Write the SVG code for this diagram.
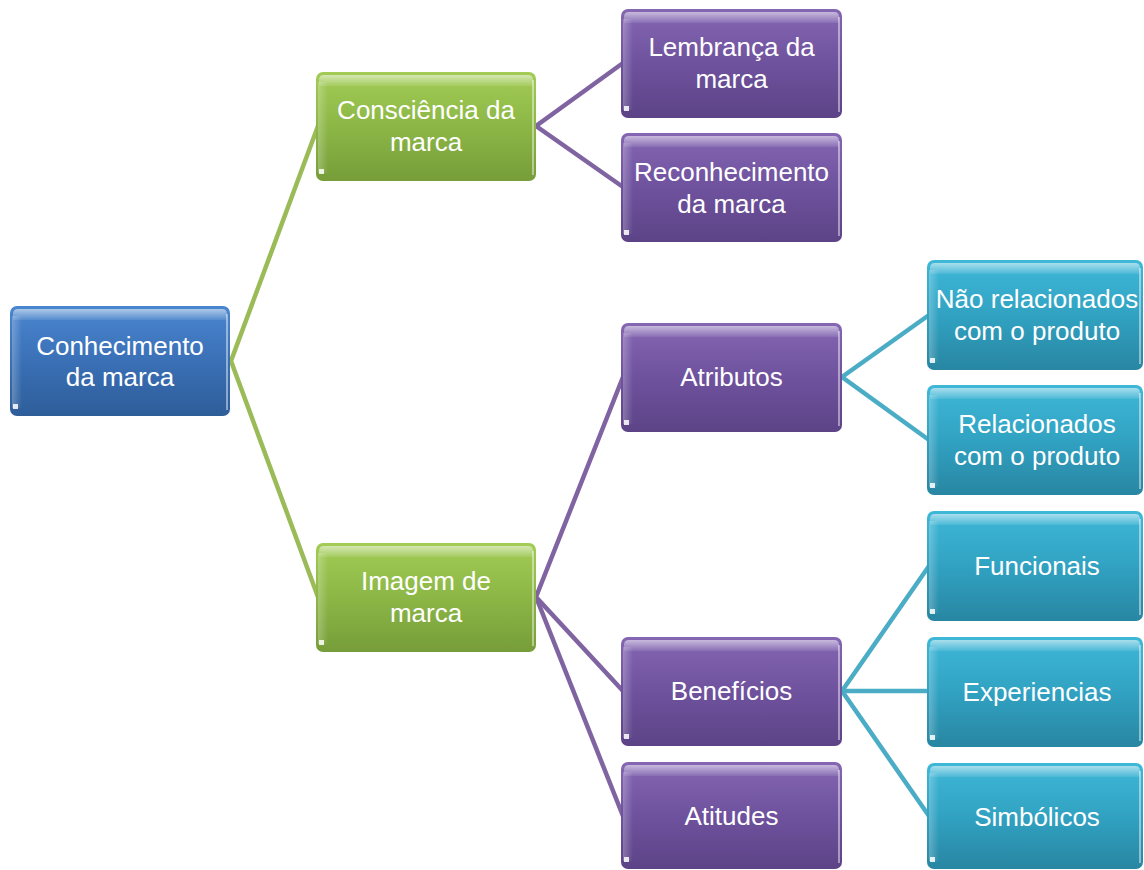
<svg xmlns="http://www.w3.org/2000/svg" width="1144" height="870" viewBox="0 0 1144 870">
  <defs>
    <linearGradient id="gBlue" x1="0" y1="0" x2="0" y2="1">
      <stop offset="0" stop-color="#4a86cf"/>
      <stop offset="0.5" stop-color="#3a70b6"/>
      <stop offset="1" stop-color="#2e5d99"/>
    </linearGradient>
    <linearGradient id="gGreen" x1="0" y1="0" x2="0" y2="1">
      <stop offset="0" stop-color="#a2cc55"/>
      <stop offset="0.5" stop-color="#8cb746"/>
      <stop offset="1" stop-color="#769d39"/>
    </linearGradient>
    <linearGradient id="gPurple" x1="0" y1="0" x2="0" y2="1">
      <stop offset="0" stop-color="#8466b3"/>
      <stop offset="0.5" stop-color="#6f529e"/>
      <stop offset="1" stop-color="#5c4386"/>
    </linearGradient>
    <linearGradient id="gCyan" x1="0" y1="0" x2="0" y2="1">
      <stop offset="0" stop-color="#3fb8d8"/>
      <stop offset="0.5" stop-color="#31a2c2"/>
      <stop offset="1" stop-color="#2886a2"/>
    </linearGradient>
    <linearGradient id="gShine" x1="0" y1="0" x2="0" y2="1">
      <stop offset="0" stop-color="#ffffff" stop-opacity="0.55"/>
      <stop offset="1" stop-color="#ffffff" stop-opacity="0.08"/>
    </linearGradient>
    <linearGradient id="gSide" x1="0" y1="0" x2="1" y2="0">
      <stop offset="0" stop-color="#ffffff" stop-opacity="0.25"/>
      <stop offset="1" stop-color="#ffffff" stop-opacity="0"/>
    </linearGradient>
  </defs>
  <style>
    .box { stroke: none; }
    .blue { fill: url(#gBlue); }
    .green { fill: url(#gGreen); }
    .purple { fill: url(#gPurple); }
    .cyan { fill: url(#gCyan); }
    .shine { fill: url(#gShine); }
    .side { fill: url(#gSide); }
    .edge { fill: none; stroke: #ffffff; stroke-opacity: 0.6; stroke-width: 1.5; }
    .dot { fill: #ffffff; fill-opacity: 0.85; }
    .lbl { font-family: "Liberation Sans", Arial, sans-serif; font-size: 26px; fill: #ffffff; text-anchor: middle; }
    .c-green { stroke: #9bbb59; }
    .c-purple { stroke: #8064a2; }
    .c-cyan { stroke: #4bacc6; }
    #connectors polyline { fill: none; stroke-width: 4.5; stroke-linejoin: miter; }
  </style>

  <rect width="1144" height="870" fill="#ffffff"/>

  <!-- connectors: each branch is drawn as a fan from the parent's right edge -->
  <g id="connectors">
    <polyline class="c-green" points="318,126 231,361 318,597"/>
    <polyline class="c-purple" points="623,63 536,126 623,187"/>
    <polyline class="c-purple" points="623,377 536,597 623,691"/>
    <polyline class="c-purple" points="536,597 623,816"/>
    <polyline class="c-cyan" points="929,315 842,377 929,440"/>
    <polyline class="c-cyan" points="929,566 842,691 929,816"/>
    <polyline class="c-cyan" points="842,691 929,691"/>
  </g>

  <!-- root -->
  <g id="n-conhecimento" transform="translate(10,306)">
    <rect class="box blue" width="220" height="110" rx="7"/>
    <path class="shine" d="M8,3 H212 Q217,3 217,8 V14 H3 V8 Q3,3 8,3 Z"/>
    <rect class="side" x="2" y="10" width="10" height="92"/>
    <line class="edge" x1="217" y1="8" x2="217" y2="104"/>
    <rect class="dot" x="3" y="98" width="5" height="5"/>
    <text class="lbl" x="110" y="49">Conhecimento</text>
    <text class="lbl" x="110" y="80">da marca</text>
  </g>

  <!-- level 1 -->
  <g id="n-consciencia" transform="translate(316,72)">
    <rect class="box green" width="220" height="109" rx="7"/>
    <path class="shine" d="M8,3 H212 Q217,3 217,8 V14 H3 V8 Q3,3 8,3 Z"/>
    <rect class="side" x="2" y="10" width="10" height="91"/>
    <line class="edge" x1="217" y1="8" x2="217" y2="103"/>
    <rect class="dot" x="3" y="97" width="5" height="5"/>
    <text class="lbl" x="110" y="47">Consciência da</text>
    <text class="lbl" x="110" y="79">marca</text>
  </g>

  <g id="n-imagem" transform="translate(316,543)">
    <rect class="box green" width="220" height="109" rx="7"/>
    <path class="shine" d="M8,3 H212 Q217,3 217,8 V14 H3 V8 Q3,3 8,3 Z"/>
    <rect class="side" x="2" y="10" width="10" height="91"/>
    <line class="edge" x1="217" y1="8" x2="217" y2="103"/>
    <rect class="dot" x="3" y="97" width="5" height="5"/>
    <text class="lbl" x="110" y="47">Imagem de</text>
    <text class="lbl" x="110" y="79">marca</text>
  </g>

  <!-- level 2 -->
  <g id="n-lembranca" transform="translate(621,9)">
    <rect class="box purple" width="221" height="109" rx="7"/>
    <path class="shine" d="M8,3 H213 Q218,3 218,8 V14 H3 V8 Q3,3 8,3 Z"/>
    <rect class="side" x="2" y="10" width="10" height="91"/>
    <line class="edge" x1="218" y1="8" x2="218" y2="103"/>
    <rect class="dot" x="3" y="97" width="5" height="5"/>
    <text class="lbl" x="110.5" y="47">Lembrança da</text>
    <text class="lbl" x="110.5" y="79">marca</text>
  </g>

  <g id="n-reconhecimento" transform="translate(621,133)">
    <rect class="box purple" width="221" height="109" rx="7"/>
    <path class="shine" d="M8,3 H213 Q218,3 218,8 V14 H3 V8 Q3,3 8,3 Z"/>
    <rect class="side" x="2" y="10" width="10" height="91"/>
    <line class="edge" x1="218" y1="8" x2="218" y2="103"/>
    <rect class="dot" x="3" y="97" width="5" height="5"/>
    <text class="lbl" x="110.5" y="48">Reconhecimento</text>
    <text class="lbl" x="110.5" y="80">da marca</text>
  </g>

  <g id="n-atributos" transform="translate(621,323)">
    <rect class="box purple" width="221" height="109" rx="7"/>
    <path class="shine" d="M8,3 H213 Q218,3 218,8 V14 H3 V8 Q3,3 8,3 Z"/>
    <rect class="side" x="2" y="10" width="10" height="91"/>
    <line class="edge" x1="218" y1="8" x2="218" y2="103"/>
    <rect class="dot" x="3" y="97" width="5" height="5"/>
    <text class="lbl" x="110.5" y="63">Atributos</text>
  </g>

  <g id="n-beneficios" transform="translate(621,637)">
    <rect class="box purple" width="221" height="109" rx="7"/>
    <path class="shine" d="M8,3 H213 Q218,3 218,8 V14 H3 V8 Q3,3 8,3 Z"/>
    <rect class="side" x="2" y="10" width="10" height="91"/>
    <line class="edge" x1="218" y1="8" x2="218" y2="103"/>
    <rect class="dot" x="3" y="97" width="5" height="5"/>
    <text class="lbl" x="110.5" y="63">Benefícios</text>
  </g>

  <g id="n-atitudes" transform="translate(621,762)">
    <rect class="box purple" width="221" height="107" rx="7"/>
    <path class="shine" d="M8,3 H213 Q218,3 218,8 V14 H3 V8 Q3,3 8,3 Z"/>
    <rect class="side" x="2" y="10" width="10" height="89"/>
    <line class="edge" x1="218" y1="8" x2="218" y2="101"/>
    <rect class="dot" x="3" y="95" width="5" height="5"/>
    <text class="lbl" x="110.5" y="63">Atitudes</text>
  </g>

  <!-- level 3 -->
  <g id="n-nao-relacionados" transform="translate(927,260)">
    <rect class="box cyan" width="216" height="110" rx="7"/>
    <path class="shine" d="M8,3 H208 Q213,3 213,8 V14 H3 V8 Q3,3 8,3 Z"/>
    <rect class="side" x="2" y="10" width="10" height="92"/>
    <line class="edge" x1="213" y1="8" x2="213" y2="104"/>
    <rect class="dot" x="3" y="98" width="5" height="5"/>
    <text class="lbl" x="110" y="48">Não relacionados</text>
    <text class="lbl" x="110" y="80">com o produto</text>
  </g>

  <g id="n-relacionados" transform="translate(927,385)">
    <rect class="box cyan" width="216" height="110" rx="7"/>
    <path class="shine" d="M8,3 H208 Q213,3 213,8 V14 H3 V8 Q3,3 8,3 Z"/>
    <rect class="side" x="2" y="10" width="10" height="92"/>
    <line class="edge" x1="213" y1="8" x2="213" y2="104"/>
    <rect class="dot" x="3" y="98" width="5" height="5"/>
    <text class="lbl" x="110" y="48">Relacionados</text>
    <text class="lbl" x="110" y="80">com o produto</text>
  </g>

  <g id="n-funcionais" transform="translate(927,511)">
    <rect class="box cyan" width="216" height="110" rx="7"/>
    <path class="shine" d="M8,3 H208 Q213,3 213,8 V14 H3 V8 Q3,3 8,3 Z"/>
    <rect class="side" x="2" y="10" width="10" height="92"/>
    <line class="edge" x1="213" y1="8" x2="213" y2="104"/>
    <rect class="dot" x="3" y="98" width="5" height="5"/>
    <text class="lbl" x="110" y="64">Funcionais</text>
  </g>

  <g id="n-experiencias" transform="translate(927,637)">
    <rect class="box cyan" width="216" height="110" rx="7"/>
    <path class="shine" d="M8,3 H208 Q213,3 213,8 V14 H3 V8 Q3,3 8,3 Z"/>
    <rect class="side" x="2" y="10" width="10" height="92"/>
    <line class="edge" x1="213" y1="8" x2="213" y2="104"/>
    <rect class="dot" x="3" y="98" width="5" height="5"/>
    <text class="lbl" x="110" y="64">Experiencias</text>
  </g>

  <g id="n-simbolicos" transform="translate(927,763)">
    <rect class="box cyan" width="216" height="106" rx="7"/>
    <path class="shine" d="M8,3 H208 Q213,3 213,8 V14 H3 V8 Q3,3 8,3 Z"/>
    <rect class="side" x="2" y="10" width="10" height="88"/>
    <line class="edge" x1="213" y1="8" x2="213" y2="100"/>
    <rect class="dot" x="3" y="94" width="5" height="5"/>
    <text class="lbl" x="110" y="63">Simbólicos</text>
  </g>
</svg>
